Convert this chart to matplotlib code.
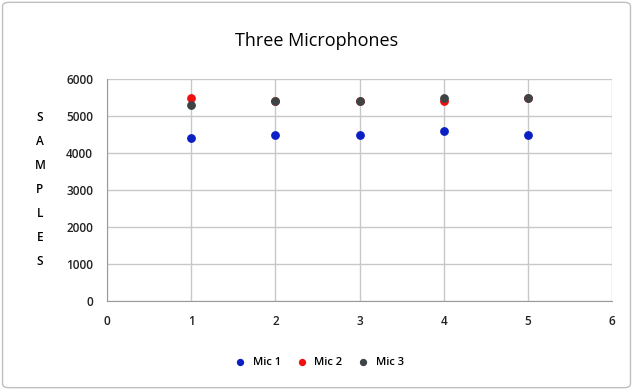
import matplotlib.pyplot as plt
from matplotlib.patches import FancyBboxPatch

# readings per trial
trials = [1, 2, 3, 4, 5]
mic1 = [4400, 4500, 4500, 4600, 4500]
mic2 = [5500, 5400, 5400, 5400, 5500]
mic3 = [5300, 5400, 5400, 5500, 5500]

plt.rcParams['font.family'] = ['Open Sans', 'DejaVu Sans']

fig = plt.figure(figsize=(6.33, 3.9), dpi=100)
# chart border
fig.patches.append(FancyBboxPatch((0.004, 0.006), 0.992, 0.988,
                                  boxstyle='round,pad=0,rounding_size=0.01',
                                  transform=fig.transFigure, fill=False,
                                  edgecolor='#bfbfbf', linewidth=1))

ax = fig.add_axes([0.169, 0.228, 0.798, 0.569])
ax.scatter(trials, mic1, s=28, color='#0a1fc4', label='Mic 1', zorder=3)
ax.scatter(trials, mic2, s=28, color='#f01010', label='Mic 2', zorder=3)
ax.scatter(trials, mic3, s=28, color='#3c4446', label='Mic 3', zorder=3)

ax.set_xlim(0, 6)
ax.set_ylim(0, 6000)
ax.set_xticks(range(0, 7))
ax.set_yticks(range(0, 7000, 1000))
ax.grid(True, color='#c8c8c8', linewidth=1)
ax.set_axisbelow(True)
for side in ['top', 'right']:
    ax.spines[side].set_visible(False)
for side in ['left', 'bottom']:
    ax.spines[side].set_color('#9a9a9a')
ax.tick_params(length=0, labelsize=8.5, pad=10, colors='#222222')
for lbl in ax.get_xticklabels() + ax.get_yticklabels():
    lbl.set_fontweight('semibold')

fig.text(0.5, 0.895, 'Three Microphones', ha='center', va='center', fontsize=13)
fig.text(0.063, 0.515, 'S\nA\nM\nP\nL\nE\nS', ha='center', va='center',
         fontsize=8.5, fontweight='semibold', linespacing=2.1)

leg = fig.legend(loc='center', bbox_to_anchor=(0.5, 0.07), ncol=3, frameon=False,
                 fontsize=8, handletextpad=0.1, columnspacing=0.9, markerscale=0.8)
for t in leg.get_texts():
    t.set_fontweight('semibold')

fig.savefig('out.png')
